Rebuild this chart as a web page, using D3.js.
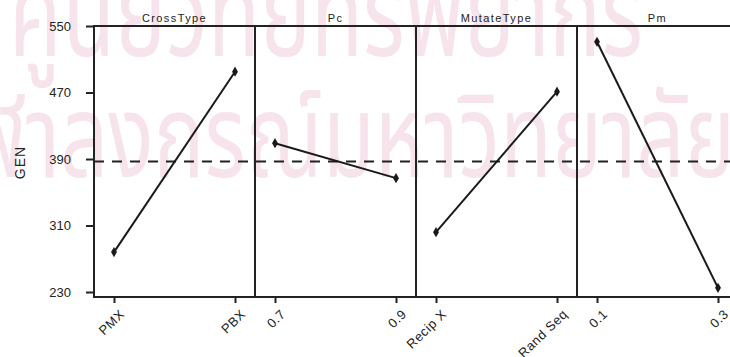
<!DOCTYPE html>
<html>
<head>
<meta charset="utf-8">
<script src="https://cdn.jsdelivr.net/npm/d3@7"></script>
<style>
  html, body { margin: 0; padding: 0; background: #fff; }
  svg { display: block; }
  text { font-family: "Liberation Sans", Arial, sans-serif; fill: #222; }
</style>
</head>
<body>
<svg id="chart" width="730" height="357"></svg>
<script>
// Main effects of four GA settings on GEN
const factors = ["CrossType", "Pc", "MutateType", "Pm"];
const levels = [
  ["PMX", "PBX"],
  ["0.7", "0.9"],
  ["Recip X", "Rand Seq"],
  ["0.1", "0.3"]
];
const genMeans = [
  [278, 495],
  [409, 367],
  [302, 471],
  [531, 235]
];
const grandMean = 387;
const yTicks = [230, 310, 390, 470, 550];
const watermark = ["ศูนย์วิทยทรัพยากร", "จุฬาลงกรณ์มหาวิทยาลัย"];

const svg = d3.select("#chart");
const W = 730;
const plotLeft = 94, plotTop = 26, plotBottom = 297, panelW = 161;

// faint watermark behind the plot: tall, narrow lettering.
// Glyph ink is measured on a canvas so the consonant body fills a set band.
const wmFamily = "'Noto Sans Thai', 'Noto Sans', sans-serif";
const ctx = document.createElement("canvas").getContext("2d");
ctx.font = `100px ${wmFamily}`;
const bodyM = ctx.measureText("ลงกรมหาวทยนศ");
const bodyUp = bodyM.actualBoundingBoxAscent;
const bodyDown = Math.max(0, bodyM.actualBoundingBoxDescent);
const bodyH = bodyUp + bodyDown;
const adv = s => ctx.measureText(s).width;

const wmRows = [
  // text, body band (top, bottom), x where the span starts, prefix before it, span and its width
  { text: watermark[0], top: -16, bottom: 57, x: 9, skip: "", span: watermark[0], spanW: 634 },
  { text: watermark[1], top: 108, bottom: 178, x: 60, skip: "จุฬา", span: "ลงกรณ์มหาวิทยาลัย", spanW: 675 }
];
const wm = svg.append("g").attr("class", "watermark");
wmRows.forEach(r => {
  const sy = (r.bottom - r.top) / bodyH;
  const sx = r.spanW / adv(r.span);
  const x0 = r.x - sx * adv(r.skip);
  const base = r.bottom - bodyDown * sy;
  wm.append("text")
    .attr("transform", `translate(${x0},${base}) scale(${sx},${sy})`)
    .style("font-family", wmFamily)
    .style("font-size", "100px")
    .style("fill", "#f6e3eb")
    .text(r.text);
});

const y = d3.scaleLinear().domain([224, 550]).range([plotBottom, plotTop]);

// y axis
const yAxis = svg.append("g")
  .attr("transform", `translate(${plotLeft},0)`)
  .call(d3.axisLeft(y).tickValues(yTicks).tickSize(8).tickPadding(15));
yAxis.select(".domain").remove();
yAxis.selectAll("line").attr("stroke", "#222").attr("stroke-width", 2);
yAxis.selectAll("text").style("font-size", "13px").attr("fill", "#222");

svg.append("text")
  .attr("transform", `translate(25,${(plotTop + plotBottom) / 2 + 1}) rotate(-90)`)
  .attr("text-anchor", "middle")
  .style("font-size", "14px").style("letter-spacing", "1px")
  .text("GEN");

const panel = d3.scaleBand().domain(factors).range([plotLeft, plotLeft + panelW * factors.length]);

// grand mean reference line
svg.append("line")
  .attr("x1", plotLeft).attr("x2", W + 20)
  .attr("y1", y(grandMean)).attr("y2", y(grandMean))
  .attr("stroke", "#222").attr("stroke-width", 2)
  .attr("stroke-dasharray", "10,8");

factors.forEach((f, i) => {
  const x0 = panel(f);
  const x = d3.scalePoint().domain(levels[i]).range([x0 + 20, x0 + panelW - 20]);
  const g = svg.append("g");

  // panel frame
  g.append("rect")
    .attr("x", x0).attr("y", plotTop)
    .attr("width", panelW).attr("height", plotBottom - plotTop)
    .attr("fill", "none").attr("stroke", "#222").attr("stroke-width", 2);

  g.append("text")
    .attr("x", x0 + panelW / 2).attr("y", plotTop - 4)
    .attr("text-anchor", "middle")
    .style("font-size", "11px").style("letter-spacing", "1.4px")
    .text(f);

  const xAxis = g.append("g")
    .attr("transform", `translate(0,${plotBottom})`)
    .call(d3.axisBottom(x).tickSize(6).tickSizeOuter(0));
  xAxis.select(".domain").remove();
  xAxis.selectAll("line").attr("stroke", "#222").attr("stroke-width", 2);
  xAxis.selectAll("text")
    .attr("y", 0).attr("dy", 0)
    .attr("text-anchor", "end")
    .attr("transform", "translate(11,18) rotate(-44)")
    .style("font-size", "13px").style("letter-spacing", "0.6px")
    .attr("fill", "#222");

  const pts = levels[i].map((l, j) => ({ l, v: genMeans[i][j] }));
  g.append("path")
    .datum(pts)
    .attr("fill", "none").attr("stroke", "#1a1a1a").attr("stroke-width", 2)
    .attr("d", d3.line().x(d => x(d.l)).y(d => y(d.v)));
  g.selectAll(".pt").data(pts).join("path")
    .attr("class", "pt")
    .attr("transform", d => `translate(${x(d.l)},${y(d.v)})`)
    .attr("d", d3.symbol(d3.symbolDiamond, 30))
    .attr("fill", "#1a1a1a");
});
</script>
</body>
</html>
